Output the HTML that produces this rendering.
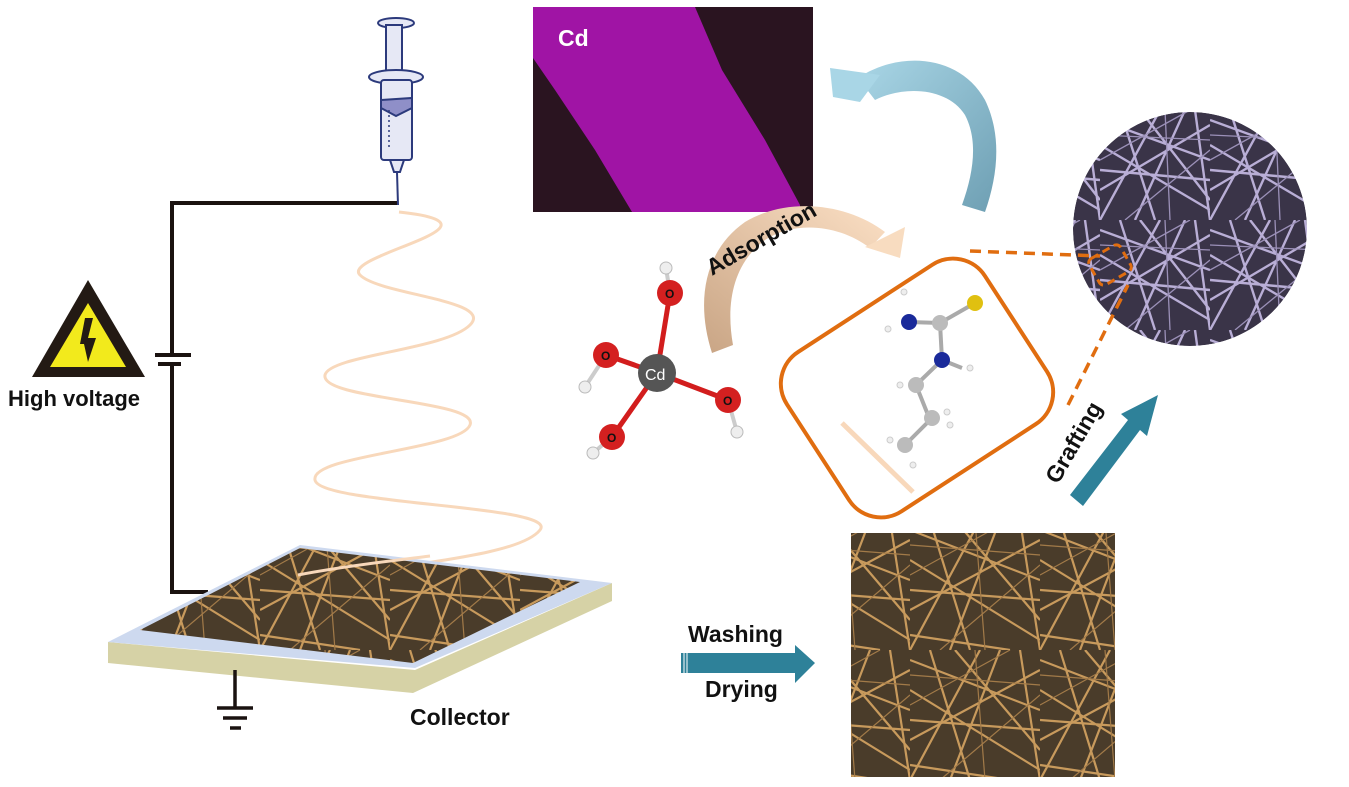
<!DOCTYPE html>
<html><head><meta charset="utf-8"><style>
html,body{margin:0;padding:0;background:#fff;}
svg{display:block;}
text{font-family:"Liberation Sans",sans-serif;font-weight:bold;}
</style></head><body>
<svg width="1349" height="787" viewBox="0 0 1349 787" xmlns="http://www.w3.org/2000/svg">
<defs>
<linearGradient id="blueA" x1="0" y1="0" x2="1" y2="1"><stop offset="0" stop-color="#a9d6e6"/><stop offset="1" stop-color="#6e9fb3"/></linearGradient>
<linearGradient id="tanA" x1="0" y1="1" x2="1" y2="0"><stop offset="0" stop-color="#c9a585"/><stop offset="1" stop-color="#fbdfc4"/></linearGradient>
<pattern id="fibB" width="130" height="130" patternUnits="userSpaceOnUse">
<rect width="130" height="130" fill="#4a3c2a"/>
<g stroke="#c89a5c" stroke-width="2.2" fill="none">
<path d="M0 10L130 60M0 90L130 20M20 0L60 130M90 0L40 130M0 40L130 120M110 0L130 130M0 130L70 0M0 70L130 80M45 0L130 100M0 115L100 130"/>
</g><g stroke="#a27a48" stroke-width="1.2"><path d="M0 25L130 35M65 0L75 130M0 55L100 0M30 130L130 45"/></g>
</pattern>
<pattern id="fibP" width="110" height="110" patternUnits="userSpaceOnUse">
<rect width="110" height="110" fill="#3a3448"/>
<g stroke="#b9aed6" stroke-width="2.4" fill="none">
<path d="M0 10L110 50M0 80L110 15M20 0L55 110M85 0L35 110M0 35L110 100M0 110L60 0M0 60L110 70M40 0L110 90M95 0L110 110"/>
</g><g stroke="#9b90b8" stroke-width="1.3"><path d="M0 25L110 30M65 0L70 110M0 50L90 0M25 110L110 40"/></g>
</pattern>
<clipPath id="circ"><circle cx="1190" cy="229" r="117"/></clipPath>
</defs>

<path d="M398 203H172V355M172 364V592H208" fill="none" stroke="#1a1210" stroke-width="4"/>
<line x1="155" y1="355" x2="191" y2="355" stroke="#1a1210" stroke-width="4"/>
<line x1="158" y1="364" x2="181" y2="364" stroke="#1a1210" stroke-width="4"/>

<polygon points="88,280 32,377 145,377" fill="#231a14"/>
<polygon points="88,303 50,367 126,367" fill="#f2ea1c"/>
<polygon points="85,318 93,318 88,338 96,338 88,362 84,344 80,344" fill="#231a14"/>
<text x="8" y="406" font-size="22" fill="#111">High voltage</text>

<g stroke="#2c3a7c" stroke-width="2" fill="#e6e8f5">
<ellipse cx="396" cy="23" rx="18" ry="5"/>
<rect x="386" y="25" width="16" height="50"/>
<ellipse cx="396" cy="77" rx="27" ry="7"/>
<rect x="381" y="80" width="31" height="80" rx="3"/>
<path d="M381 100L412 98L412 108L396 116L381 108Z" fill="#8f8fc8"/>
<path d="M390 160H404L400 172H394Z"/>
</g>
<line x1="397" y1="172" x2="398" y2="205" stroke="#2c3a7c" stroke-width="2"/>
<line x1="389" y1="110" x2="389" y2="148" stroke="#2c3a7c" stroke-width="1.5" stroke-dasharray="2 3"/>

<path d="M399 212C520 225 340 255 360 275C380 295 495 300 470 325C445 350 330 355 325 375C320 400 480 400 470 425C460 450 310 455 315 480C320 505 560 505 540 530C520 555 420 562 325 578" fill="none" stroke="#f8d8bb" stroke-width="3"/>

<polygon points="108,642 415,670 612,583 612,601 413,693 108,663" fill="#d6d2a6"/>
<polygon points="300,545 612,583 415,668 108,642" fill="#cdd9ef"/>
<polygon points="300,548 580,582 413,663 140,630" fill="url(#fibB)"/>
<path d="M298 575C350 565 400 560 430 556" stroke="#f8d8bb" stroke-width="3" fill="none"/>
<path d="M235 670V708M217 708H253M223 718H247M230 728H241" stroke="#1a1210" stroke-width="3.5" fill="none"/>
<text x="410" y="725" font-size="23" fill="#111">Collector</text>

<polygon points="681,653 795,653 795,645 815,663 795,683 795,673 681,673" fill="#2e8199"/>
<path d="M684 653V673M687 653V673" stroke="#fff" stroke-width="1"/>
<text x="688" y="642" font-size="23" fill="#111">Washing</text>
<text x="705" y="697" font-size="23" fill="#111">Drying</text>

<rect x="851" y="533" width="264" height="244" fill="url(#fibB)"/>

<rect x="533" y="7" width="280" height="205" fill="#2a1420"/>
<polygon points="533,7 695,7 722,70 765,140 800,205 800,212 632,212 595,150 555,90 533,58" fill="#a014a5"/>
<text x="558" y="46" font-size="23" fill="#fff">Cd</text>

<!-- blue curved arrow -->
<path d="M858 78C900 50 960 55 985 100C1002 135 998 175 985 212L962 205C974 172 978 140 965 115C948 88 905 85 875 100Z" fill="url(#blueA)"/>
<polygon points="830,68 880,75 860,102 833,97" fill="#a9d6e6"/>

<!-- tan adsorption arrow -->
<path d="M712 353C695 300 705 250 745 222C790 195 850 205 885 232L870 248C840 225 795 220 765 240C735 262 725 300 733 345Z" fill="url(#tanA)"/>
<polygon points="905,227 900,258 865,247" fill="#f8dcc0"/>
<text x="0" y="0" font-size="23" fill="#111" transform="translate(712,276) rotate(-30)">Adsorption</text>

<g stroke-linecap="round">
<line x1="657" y1="373" x2="670" y2="293" stroke="#d21d1d" stroke-width="5"/>
<line x1="657" y1="373" x2="606" y2="355" stroke="#d21d1d" stroke-width="5"/>
<line x1="657" y1="373" x2="728" y2="400" stroke="#d21d1d" stroke-width="5"/>
<line x1="657" y1="373" x2="612" y2="437" stroke="#d21d1d" stroke-width="5"/>
<line x1="670" y1="293" x2="666" y2="268" stroke="#ccc" stroke-width="4"/>
<line x1="606" y1="355" x2="585" y2="387" stroke="#ccc" stroke-width="4"/>
<line x1="728" y1="400" x2="737" y2="432" stroke="#ccc" stroke-width="4"/>
<line x1="612" y1="437" x2="593" y2="453" stroke="#ccc" stroke-width="4"/>
</g>
<circle cx="657" cy="373" r="19" fill="#555"/>
<g fill="#d42020"><circle cx="670" cy="293" r="13"/><circle cx="606" cy="355" r="13"/><circle cx="728" cy="400" r="13"/><circle cx="612" cy="437" r="13"/></g>
<g fill="#eee" stroke="#bbb"><circle cx="666" cy="268" r="6"/><circle cx="585" cy="387" r="6"/><circle cx="737" cy="432" r="6"/><circle cx="593" cy="453" r="6"/></g>
<text x="645" y="380" font-size="16" fill="#fff" style="font-weight:normal">Cd</text>
<g font-size="12" fill="#111"><text x="665" y="298">O</text><text x="601" y="360">O</text><text x="723" y="405">O</text><text x="607" y="442">O</text></g>

<g transform="translate(917,388) rotate(-33)">
<rect x="-118" y="-95" width="236" height="190" rx="38" fill="none" stroke="#e06d10" stroke-width="4"/>
</g>
<line x1="842" y1="423" x2="913" y2="492" stroke="#f8d8bb" stroke-width="5"/>
<g stroke="#aaa" stroke-width="4" fill="none">
<path d="M909 322L940 323L975 303M940 323L942 360L916 385L930 420L905 445M942 360L962 368"/>
</g>
<circle cx="975" cy="303" r="8" fill="#e0c010"/>
<g fill="#1a2a9a"><circle cx="909" cy="322" r="8"/><circle cx="942" cy="360" r="8"/></g>
<g fill="#bbb"><circle cx="940" cy="323" r="8"/><circle cx="916" cy="385" r="8"/><circle cx="932" cy="418" r="8"/><circle cx="905" cy="445" r="8"/></g>
<g fill="#eee" stroke="#ccc"><circle cx="904" cy="292" r="3"/><circle cx="888" cy="329" r="3"/><circle cx="970" cy="368" r="3"/><circle cx="900" cy="385" r="3"/><circle cx="947" cy="412" r="3"/><circle cx="950" cy="425" r="3"/><circle cx="890" cy="440" r="3"/><circle cx="913" cy="465" r="3"/></g>

<circle cx="1190" cy="229" r="117" fill="url(#fibP)" clip-path="url(#circ)"/>
<path d="M970 251L1100 256M1068 405L1128 285" stroke="#e06d10" stroke-width="3.5" stroke-dasharray="11 7" fill="none"/>
<g transform="translate(1110,265) rotate(-30)"><rect x="-18" y="-15" width="36" height="30" rx="5" fill="none" stroke="#e06d10" stroke-width="3" stroke-dasharray="8 5"/></g>

<polygon points="1070,495 1128,420 1121,414 1158,395 1147,436 1140,430 1083,506" fill="#2e8199"/>
<text x="0" y="0" font-size="23" fill="#111" transform="translate(1058,485) rotate(-60)">Grafting</text>
</svg>
</body></html>
